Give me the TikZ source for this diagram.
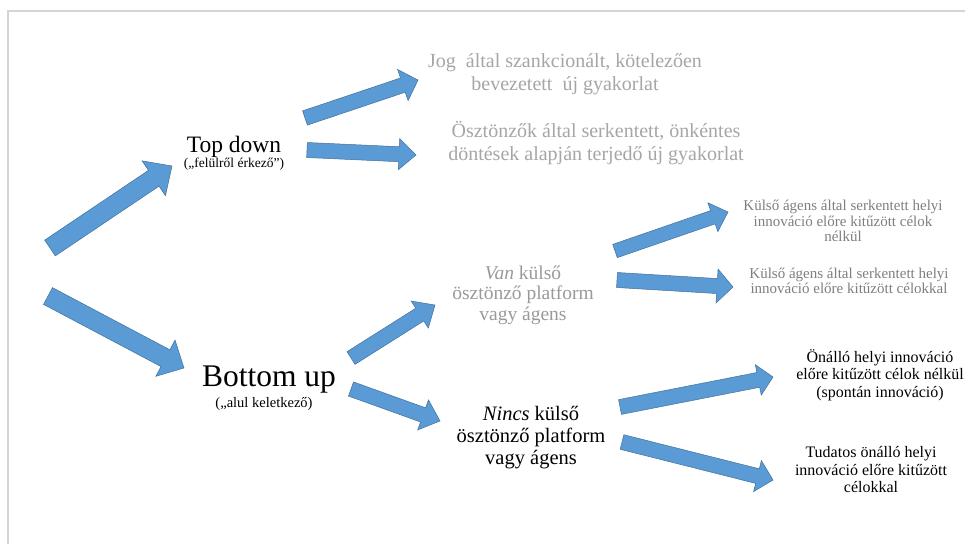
\documentclass[tikz,border=0pt]{standalone}
\usepackage{fontspec}
\setmainfont{Liberation Serif}
\usetikzlibrary{calc}
\definecolor{arrowblue}{HTML}{5B9BD5}
\definecolor{arrowedge}{HTML}{41719C}
\definecolor{framegrey}{HTML}{D4D4D4}
\definecolor{lightgreytext}{HTML}{A6A6A6}
\definecolor{midgreytext}{HTML}{9A9A9A}
\definecolor{darkgreytext}{HTML}{7F7F7F}
\tikzset{
  blockarrow/.style={fill=arrowblue, draw=arrowedge, line width=0.5pt, line join=miter},
  label/.style={align=center, inner sep=0pt},
}
\newcommand{\blockarrow}[5]{% #1 tail, #2 tip, #3 half shaft width, #4 half head width, #5 head length
  \coordinate (ba-h) at ($(#2)!#5!(#1)$);
  \draw[blockarrow] ($(#1)!#3!90:(#2)$) -- ($(ba-h)!#3!-90:(#1)$) -- ($(ba-h)!#4!-90:(#1)$) -- (#2)
    -- ($(ba-h)!#4!90:(#1)$) -- ($(ba-h)!#3!90:(#1)$) -- ($(#1)!#3!-90:(#2)$) -- cycle;
}
\begin{document}
\begin{tikzpicture}[x=1pt, y=-1pt]
\useasboundingbox (0,0) rectangle (965,544);
\fill[white] (0,0) rectangle (965,544);
% frame
\draw[framegrey, line width=1.5pt] (8,544) -- (8,11) -- (965,11);

% text nodes
\node[label, font=\fontsize{23.5}{26}\selectfont] (topdown) at (234,147) {Top down};
\node[label, font=\fontsize{13.5}{15}\selectfont] (topsub) at (234,164) {(„felülről érkező”)};
\node[label, font=\fontsize{31.5}{34}\selectfont] (bottomup) at (269,380) {Bottom up};
\node[label, font=\fontsize{14.5}{16}\selectfont] (bottomsub) at (264,404) {(„alul keletkező)};

\node[label, text=lightgreytext, font=\fontsize{20}{22.5}\selectfont] (jog) at (565,74) {Jog\ \ által szankcionált, kötelezően\\ bevezetett\ \ új gyakorlat};
\node[label, text=lightgreytext, font=\fontsize{20}{22.5}\selectfont] (osztonzok) at (596,143) {Ösztönzők által serkentett, önkéntes\\ döntések alapján terjedő új gyakorlat};

\node[label, text=midgreytext, font=\fontsize{19.5}{20.5}\selectfont] (van) at (523,295) {\textit{Van} külső\\ ösztönző platform\\ vagy ágens};
\node[label, font=\fontsize{20.5}{22}\selectfont] (nincs) at (531,438) {\textit{Nincs} külső\\ ösztönző platform\\ vagy ágens};

\node[label, text=darkgreytext, font=\fontsize{15}{15.5}\selectfont] (kulso1) at (843,221) {Külső ágens által serkentett helyi\\ innováció előre kitűzött célok\\ nélkül};
\node[label, text=darkgreytext, font=\fontsize{15}{15.5}\selectfont] (kulso2) at (849,281) {Külső ágens által serkentett helyi\\ innováció előre kitűzött célokkal};

\node[label, font=\fontsize{16}{17.5}\selectfont] (onallo) at (880,375) {Önálló helyi innováció\\ előre kitűzött célok nélkül\\ (spontán innováció)};
\node[label, font=\fontsize{16}{17.5}\selectfont] (tudatos) at (871,470) {Tudatos önálló helyi\\ innováció előre kitűzött\\ célokkal};

% arrow end points
\coordinate (a1t) at (50,248);   \coordinate (a1h) at (172,166);
\coordinate (a2t) at (48,296);   \coordinate (a2h) at (184,368);
\coordinate (a3t) at (305,118);  \coordinate (a3h) at (418,80);
\coordinate (a4t) at (307,150);  \coordinate (a4h) at (416,155);
\coordinate (a5t) at (351,358);  \coordinate (a5h) at (435,305);
\coordinate (a6t) at (351,389);  \coordinate (a6h) at (440,421);
\coordinate (a7t) at (615,251);  \coordinate (a7h) at (728,212);
\coordinate (a8t) at (617,280);  \coordinate (a8h) at (733,287);
\coordinate (a9t) at (620,407);  \coordinate (a9h) at (773,377);
\coordinate (a10t) at (622,442); \coordinate (a10h) at (773,480);

\blockarrow{a1t}{a1h}{9.5pt}{21pt}{22pt}
\blockarrow{a2t}{a2h}{9.5pt}{20.5pt}{21pt}
\blockarrow{a3t}{a3h}{7.5pt}{16.5pt}{16pt}
\blockarrow{a4t}{a4h}{7.5pt}{15.5pt}{17pt}
\blockarrow{a5t}{a5h}{7.5pt}{16pt}{18pt}
\blockarrow{a6t}{a6h}{7.5pt}{16pt}{18pt}
\blockarrow{a7t}{a7h}{7pt}{15.3pt}{16pt}
\blockarrow{a8t}{a8h}{7.5pt}{17pt}{16pt}
\blockarrow{a9t}{a9h}{7.5pt}{15.5pt}{15pt}
\blockarrow{a10t}{a10h}{7.5pt}{16pt}{16pt}
\end{tikzpicture}
\end{document}
